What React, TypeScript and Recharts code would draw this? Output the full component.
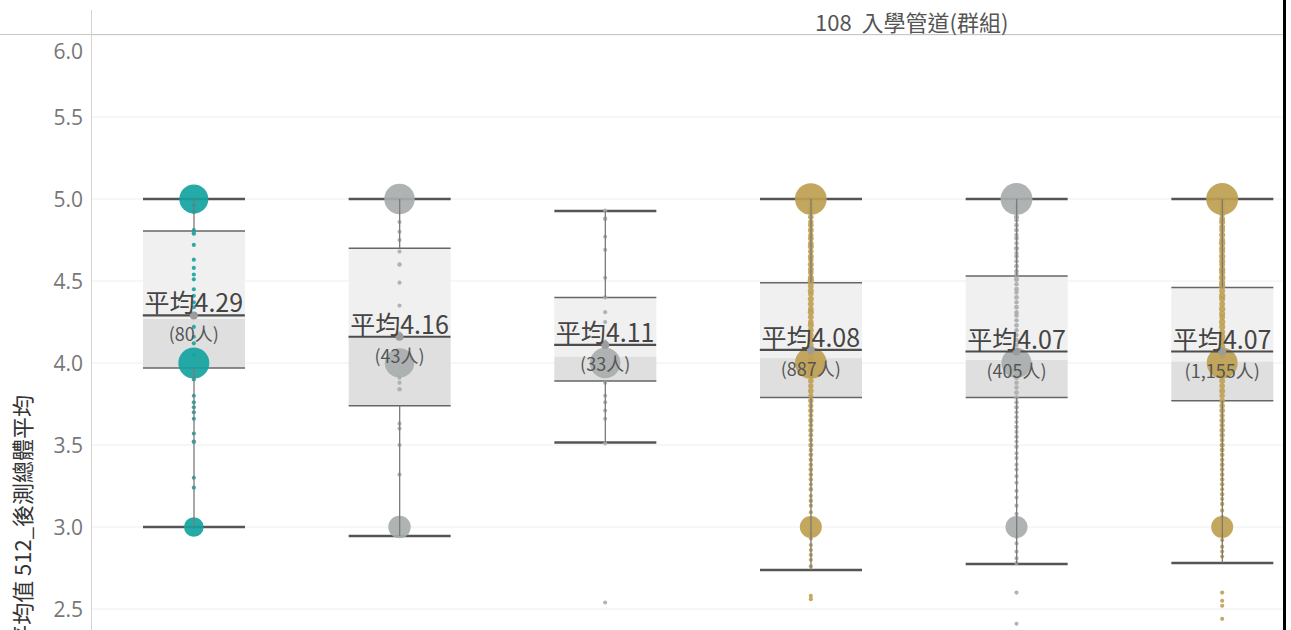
import React from 'react';
import { ComposedChart, Bar, Scatter, XAxis, YAxis, ZAxis, CartesianGrid } from 'recharts';

// six admission-route groups (names hidden in the cropped picture)
const groups = ['g1', 'g2', 'g3', 'g4', 'g5', 'g6'];
const groupColors = ['#14a39f', '#a8acac', '#a8acac', '#bf9f51', '#a8acac', '#bf9f51'];
const headCounts = [80, 43, 33, 887, 405, 1155];
const means = [4.29, 4.16, 4.11, 4.08, 4.07, 4.07];
const whiskerLow = [3.0, 2.945, 3.516, 2.738, 2.774, 2.78];
const q1 = [3.97, 3.74, 3.89, 3.79, 3.79, 3.77];
const medians = [4.27, 4.16, 4.04, 4.03, 4.02, 4.01];
const q3 = [4.805, 4.7, 4.4, 4.49, 4.53, 4.46];
const whiskerHigh = [5.0, 5.0, 4.927, 5.0, 5.0, 5.0];
const yTicks = [2.5, 3, 3.5, 4, 4.5, 5, 5.5, 6];

// [score, people]
const dotsG1 = [
  [5, 22], [4, 25], [3, 10],
  [4.96, 1], [4.92, 1], [4.81, 1], [4.79, 2], [4.72, 1], [4.63, 1], [4.58, 1], [4.54, 1],
  [4.51, 1], [4.45, 1], [4.41, 1], [4.37, 1], [4.34, 1], [4.22, 1], [4.16, 1], [4.12, 1],
  [4.05, 1], [3.9, 1], [3.8, 1], [3.76, 1], [3.73, 1], [3.7, 1], [3.66, 1], [3.57, 1],
  [3.52, 2], [3.3, 1], [3.24, 1],
];
const dotsG2 = [
  [5, 13], [4, 12], [3, 7],
  [4.86, 1], [4.8, 1], [4.75, 1], [4.68, 1], [4.6, 2], [4.49, 1], [4.35, 1], [4.18, 2],
  [3.91, 1], [3.88, 1], [3.84, 2], [3.63, 1], [3.6, 1], [3.5, 1], [3.32, 1],
];
const dotsG3 = [
  [4, 10],
  [4.93, 1], [4.88, 2], [4.77, 1], [4.69, 1], [4.52, 1], [4.4, 1], [4.31, 1], [4.25, 1],
  [4.13, 2], [3.88, 1], [3.8, 1], [3.76, 1], [3.71, 1], [3.66, 1], [3.51, 1], [2.54, 1],
];
const dotsG4 = [
  [5, 290], [4, 290], [3, 140],
  [4.97, 3], [4.94, 5], [4.92, 4], [4.89, 6], [4.86, 5], [4.84, 6], [4.81, 7], [4.78, 5],
  [4.76, 7], [4.73, 6], [4.71, 8], [4.68, 6], [4.65, 7], [4.63, 5], [4.6, 8], [4.57, 7],
  [4.55, 6], [4.52, 8], [4.5, 9], [4.47, 7], [4.44, 8], [4.42, 6], [4.39, 8], [4.36, 7],
  [4.33, 6], [4.31, 8], [4.28, 7], [4.25, 6], [4.23, 8], [4.2, 7], [4.17, 6], [4.14, 8],
  [4.11, 6], [4.08, 7], [4.05, 6], [4.02, 5], [3.97, 6], [3.95, 7], [3.92, 5], [3.89, 6],
  [3.86, 5], [3.83, 6], [3.8, 4], [3.77, 5], [3.74, 4], [3.71, 5], [3.68, 3], [3.65, 4],
  [3.62, 3], [3.59, 4], [3.56, 3], [3.53, 3], [3.5, 4], [3.47, 2], [3.44, 3], [3.41, 2],
  [3.38, 2], [3.35, 3], [3.32, 2], [3.29, 2], [3.26, 1], [3.23, 2], [3.19, 1], [3.16, 2],
  [3.13, 1], [3.09, 1], [3.05, 2], [2.96, 1], [2.93, 1], [2.89, 1], [2.86, 1], [2.83, 1],
  [2.8, 1], [2.76, 1], [2.58, 1], [2.56, 1],
];
const dotsG5 = [
  [5, 134], [4, 119], [3, 64],
  [4.97, 2], [4.95, 3], [4.92, 2], [4.89, 4], [4.87, 2], [4.84, 3], [4.81, 3], [4.78, 2],
  [4.76, 3], [4.73, 2], [4.7, 4], [4.67, 2], [4.65, 3], [4.62, 2], [4.59, 3], [4.56, 3],
  [4.54, 2], [4.51, 4], [4.48, 2], [4.45, 3], [4.43, 2], [4.4, 3], [4.37, 2], [4.34, 3],
  [4.31, 2], [4.29, 3], [4.26, 2], [4.23, 3], [4.2, 2], [4.17, 2], [4.14, 3], [4.11, 2],
  [4.08, 2], [4.05, 2], [3.96, 3], [3.93, 2], [3.91, 3], [3.88, 2], [3.85, 2], [3.82, 3],
  [3.79, 2], [3.76, 2], [3.73, 3], [3.7, 1], [3.67, 2], [3.64, 1], [3.61, 2], [3.58, 1],
  [3.55, 2], [3.52, 1], [3.49, 2], [3.45, 1], [3.42, 1], [3.38, 1], [3.35, 1], [3.31, 1],
  [3.27, 1], [3.22, 1], [3.18, 1], [3.13, 1], [3.08, 1], [2.94, 1], [2.9, 1], [2.85, 1],
  [2.81, 1], [2.78, 1], [2.6, 1], [2.41, 1],
];
const dotsG6 = [
  [5, 385], [4, 360], [3, 182],
  [4.98, 4], [4.96, 6], [4.93, 5], [4.91, 7], [4.88, 6], [4.86, 8], [4.83, 7], [4.81, 6],
  [4.78, 8], [4.75, 7], [4.73, 9], [4.7, 8], [4.68, 7], [4.65, 9], [4.62, 8], [4.6, 7],
  [4.57, 9], [4.55, 8], [4.52, 10], [4.49, 8], [4.47, 9], [4.44, 7], [4.41, 9], [4.39, 8],
  [4.36, 7], [4.33, 9], [4.3, 8], [4.28, 7], [4.25, 9], [4.22, 8], [4.19, 7], [4.16, 9],
  [4.13, 7], [4.1, 8], [4.07, 7], [4.04, 6], [3.97, 7], [3.94, 8], [3.92, 6], [3.89, 7],
  [3.86, 6], [3.83, 7], [3.8, 5], [3.77, 6], [3.74, 5], [3.71, 6], [3.68, 4], [3.65, 5],
  [3.62, 4], [3.59, 5], [3.56, 4], [3.53, 3], [3.5, 4], [3.47, 3], [3.44, 3], [3.41, 2],
  [3.38, 3], [3.35, 2], [3.32, 2], [3.29, 2], [3.26, 2], [3.23, 1], [3.2, 2], [3.17, 1],
  [3.14, 2], [3.1, 1], [3.06, 1], [2.95, 1], [2.92, 1], [2.88, 1], [2.85, 1], [2.82, 1],
  [2.6, 1], [2.55, 1], [2.52, 1], [2.44, 1],
];
const groupDots = [dotsG1, dotsG2, dotsG3, dotsG4, dotsG5, dotsG6];

const boxRows = groups.map((name, i) => ({
  name,
  base: whiskerLow[i],
  lowWhisker: q1[i] - whiskerLow[i],
  lowBox: medians[i] - q1[i],
  highBox: q3[i] - medians[i],
  highWhisker: whiskerHigh[i] - q3[i],
}));

const meanRows = groups.map((name, i) => ({ name, value: means[i], count: headCounts[i] }));

const toRows = (i: number, whole: boolean) =>
  groupDots[i]
    .filter(([value]) => Number.isInteger(value) === whole)
    .map(([value, n]) => ({ name: groups[i], value, n, share: n / headCounts[i] }));

// whole-number scores are the big clusters, the rest are small scattered dots
const bigRows = groups.map((_, i) => toRows(i, true));
const smallRows = groups.map((_, i) => toRows(i, false));

const CJK = "'Noto Sans CJK TC', 'Noto Sans', sans-serif";
const W = 1325;
const H = 691;
const BAR = 102;

const Empty = () => <g />;

const LowWhiskerCap = (p: any) => {
  const bottom = p.y + p.height;
  return <line x1={p.x} x2={p.x + p.width} y1={bottom} y2={bottom} stroke="#555" strokeWidth={2.5} />;
};
const HighWhiskerCap = (p: any) => (
  <line x1={p.x} x2={p.x + p.width} y1={p.y} y2={p.y} stroke="#555" strokeWidth={2.5} />
);
const WhiskerStem = (p: any) => {
  const cx = p.x + p.width / 2;
  return <line x1={cx} x2={cx} y1={p.y} y2={p.y + p.height} stroke="#7a7a7a" strokeWidth={1.3} />;
};
const LowBox = (p: any) => {
  const bottom = p.y + p.height;
  return (
    <g>
      <rect x={p.x} y={p.y} width={p.width} height={p.height} fill="#dfdfdf" />
      <line x1={p.x} x2={p.x + p.width} y1={bottom} y2={bottom} stroke="#666" strokeWidth={1.5} />
    </g>
  );
};
const HighBox = (p: any) => (
  <g>
    <rect x={p.x} y={p.y} width={p.width} height={p.height} fill="#f0f0f0" />
    <line x1={p.x} x2={p.x + p.width} y1={p.y} y2={p.y} stroke="#666" strokeWidth={1.5} />
  </g>
);

const MeanMark = (p: any) => {
  const { cx, cy, payload } = p;
  return (
    <g>
      <line x1={cx - BAR / 2} x2={cx + BAR / 2} y1={cy} y2={cy} stroke="#4d4d4d" strokeWidth={2.2} />
      <circle cx={cx} cy={cy} r={4} fill="#9c9c9c" />
      <text x={cx} y={cy - 3} textAnchor="middle" fontSize={25} fill="#444" fontFamily={CJK}>
        平均{payload.value.toFixed(2)}
      </text>
      <text x={cx} y={cy + 26} textAnchor="middle" fontSize={18} fill="#555" fontFamily={CJK}>
        ({payload.count.toLocaleString('en-US')}人)
      </text>
    </g>
  );
};

const YTick = (p: any) => {
  const v = p.payload.value;
  return (
    <text x={p.x} y={v === 6 ? p.y + 16 : p.y} textAnchor="end" dominantBaseline="central"
      fill="#777" fontSize={21} fontFamily="'Open Sans', sans-serif">
      {v.toFixed(1)}
    </text>
  );
};

function App() {
  return (
    <div style={{ position: 'fixed', left: 0, top: 0, width: 1291, height: 630, overflow: 'hidden', background: '#fff' }}>
      <div style={{ position: 'absolute', left: 0, top: 0 }}>
        <ComposedChart width={W} height={H} data={boxRows} margin={{ top: 35, right: 0, bottom: 0, left: 0 }}>
          <CartesianGrid horizontal vertical={false} stroke="#eeeeee" />
          <XAxis dataKey="name" type="category" hide allowDuplicatedCategory={false} />
          <YAxis type="number" domain={[2, 6]} ticks={yTicks} allowDataOverflow width={91}
            axisLine={false} tickLine={false} tick={<YTick />} />
          <ZAxis zAxisId="big" dataKey="share" type="number" domain={[0, 0.35]} range={[3, 843]} />
          <ZAxis zAxisId="small" dataKey="n" type="number" domain={[0, 10]} range={[11, 34]} />
          <Bar dataKey="base" stackId="s" barSize={BAR} shape={<Empty />} isAnimationActive={false} />
          <Bar dataKey="lowWhisker" stackId="s" barSize={BAR} shape={<LowWhiskerCap />} isAnimationActive={false} />
          <Bar dataKey="lowBox" stackId="s" barSize={BAR} shape={<LowBox />} isAnimationActive={false} />
          <Bar dataKey="highBox" stackId="s" barSize={BAR} shape={<HighBox />} isAnimationActive={false} />
          <Bar dataKey="highWhisker" stackId="s" barSize={BAR} shape={<HighWhiskerCap />} isAnimationActive={false} />
          {smallRows.map((rows, i) => (
            <Scatter key={'s' + groups[i]} zAxisId="small" data={rows} dataKey="value" fill={groupColors[i]}
              fillOpacity={0.9} shape="circle" isAnimationActive={false} />
          ))}
          {bigRows.map((rows, i) => (
            <Scatter key={'b' + groups[i]} zAxisId="big" data={rows} dataKey="value" fill={groupColors[i]}
              fillOpacity={0.92} shape="circle" isAnimationActive={false} />
          ))}
          <Scatter zAxisId="big" data={meanRows} dataKey="value" shape={<MeanMark />} isAnimationActive={false} />
        </ComposedChart>
      </div>
      {/* whisker stems sit above the dots */}
      <div style={{ position: 'absolute', left: 0, top: 0, pointerEvents: 'none' }}>
        <ComposedChart width={W} height={H} data={boxRows} margin={{ top: 35, right: 0, bottom: 0, left: 91 }}>
          <XAxis dataKey="name" type="category" hide />
          <YAxis type="number" domain={[2, 6]} allowDataOverflow hide />
          <Bar dataKey="base" stackId="s" barSize={BAR} shape={<Empty />} isAnimationActive={false} />
          <Bar dataKey="lowWhisker" stackId="s" barSize={BAR} shape={<WhiskerStem />} isAnimationActive={false} />
          <Bar dataKey="lowBox" stackId="s" barSize={BAR} shape={<Empty />} isAnimationActive={false} />
          <Bar dataKey="highBox" stackId="s" barSize={BAR} shape={<Empty />} isAnimationActive={false} />
          <Bar dataKey="highWhisker" stackId="s" barSize={BAR} shape={<WhiskerStem />} isAnimationActive={false} />
        </ComposedChart>
      </div>
      <div style={{ position: 'absolute', left: 0, top: 34, width: 1283, height: 1, background: '#c8c8c8' }} />
      <div style={{ position: 'absolute', left: 91, top: 10, width: 1, height: 620, background: '#d4d4d4' }} />
      <div style={{ position: 'absolute', left: 815, top: 7, fontSize: 22, color: '#555', fontFamily: CJK, whiteSpace: 'pre', lineHeight: '28px' }}>
        108  入學管道(群組)
      </div>
      <svg style={{ position: 'absolute', left: 0, top: 0 }} width={60} height={630}>
        <text transform="translate(31,395) rotate(-90)" textAnchor="end" fontSize={22} fill="#333" fontFamily={CJK}>
          平均值 512_後測總體平均
        </text>
      </svg>
      <div style={{ position: 'absolute', left: 1283, top: 0, width: 3, height: 630, background: '#000' }} />
      <div style={{ position: 'absolute', left: 1286, top: 0, width: 5, height: 630, background: '#fff' }} />
    </div>
  );
}

export default App;
